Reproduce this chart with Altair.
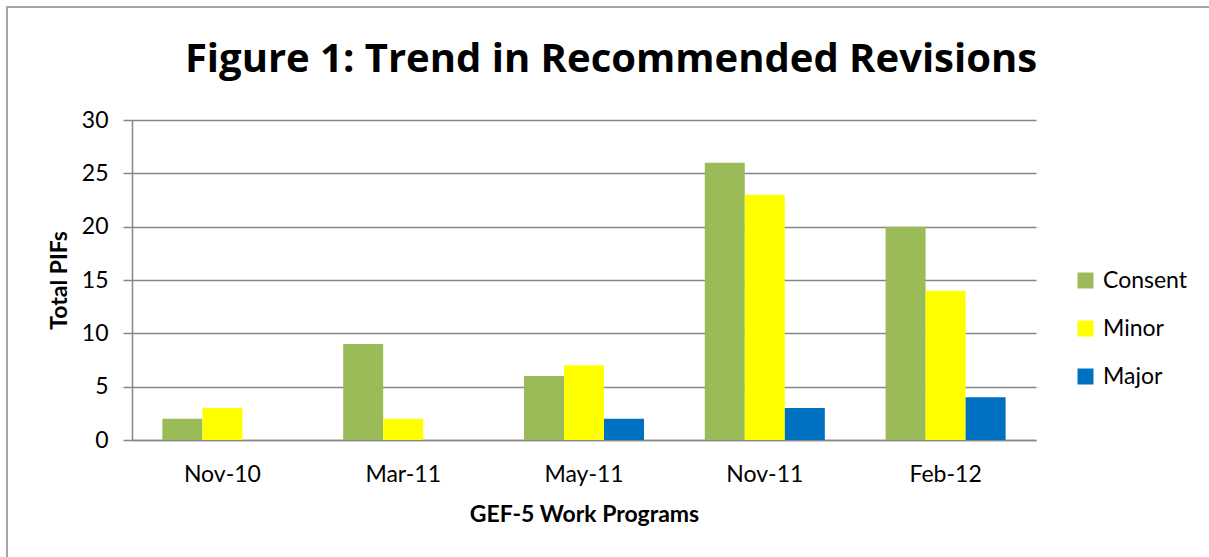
import altair as alt
import pandas as pd

periods = ["Nov-10", "Mar-11", "May-11", "Nov-11", "Feb-12"]
series = ["Consent", "Minor", "Major"]
consent = [2, 9, 6, 26, 20]
minor = [3, 2, 7, 23, 14]
major = [0, 0, 2, 3, 4]
colors = ["#9BBB59", "#FFFF00", "#0070C0"]

rows = []
for i, p in enumerate(periods):
    for s, vals in zip(series, [consent, minor, major]):
        rows.append({"period": p, "series": s, "value": vals[i]})
df = pd.DataFrame(rows)

FONT = "Lato"

bars = alt.Chart(df).mark_bar(size=40).encode(
    x=alt.X("period:N", sort=periods,
            scale=alt.Scale(paddingInner=0.336, paddingOuter=0.168),
            axis=alt.Axis(title="GEF-5 Work Programs", labelAngle=0, ticks=False,
                          labelPadding=23, titlePadding=17, domainColor="#868686",
                          domainWidth=1.5, grid=False)),
    xOffset=alt.XOffset("series:N", sort=series,
                        scale=alt.Scale(paddingInner=0, paddingOuter=0)),
    y=alt.Y("value:Q", scale=alt.Scale(domain=[0, 30], nice=False),
            axis=alt.Axis(title="Total PIFs", values=[0, 5, 10, 15, 20, 25, 30],
                          tickSize=9, tickColor="#868686", tickWidth=1.5,
                          domainColor="#868686", domainWidth=1.5, grid=True,
                          gridColor="#868686", gridWidth=1.5,
                          labelPadding=15, titlePadding=10)),
    color=alt.Color("series:N", sort=series,
                    scale=alt.Scale(domain=series, range=colors),
                    legend=alt.Legend(title=None, orient="none", legendX=942, legendY=149,
                                      symbolType="square", symbolSize=256,
                                      symbolStrokeWidth=0, labelFontSize=23,
                                      labelFont=FONT, labelColor="#000000",
                                      labelOffset=6, rowPadding=24, padding=0)),
)

border = alt.Chart(pd.DataFrame({"a": [0]})).mark_rect(
    fill=None, stroke="#A6A6A6", strokeWidth=2
).encode(x=alt.value(-125), x2=alt.value(1100), y=alt.value(-113), y2=alt.value(460))

chart = alt.layer(bars, border).properties(
    width=904, height=320,
    title=alt.TitleParams("Figure 1: Trend in Recommended Revisions", fontSize=40,
                          font="Open Sans", fontWeight="bold", color="#000000",
                          anchor="middle", frame="group", baseline="alphabetic",
                          dx=27, offset=-106),
    padding={"left": 132, "top": 120, "right": 173, "bottom": 117},
    autosize=alt.AutoSizeParams(type="none"),
    background="#FFFFFF",
).configure_view(stroke=None).configure_axis(
    labelFont=FONT, labelFontSize=23, labelColor="#000000",
    titleFont=FONT, titleFontSize=23, titleFontWeight="bold", titleColor="#000000",
)

chart.save("out.html", embed_options={"renderer": "svg", "actions": False})
